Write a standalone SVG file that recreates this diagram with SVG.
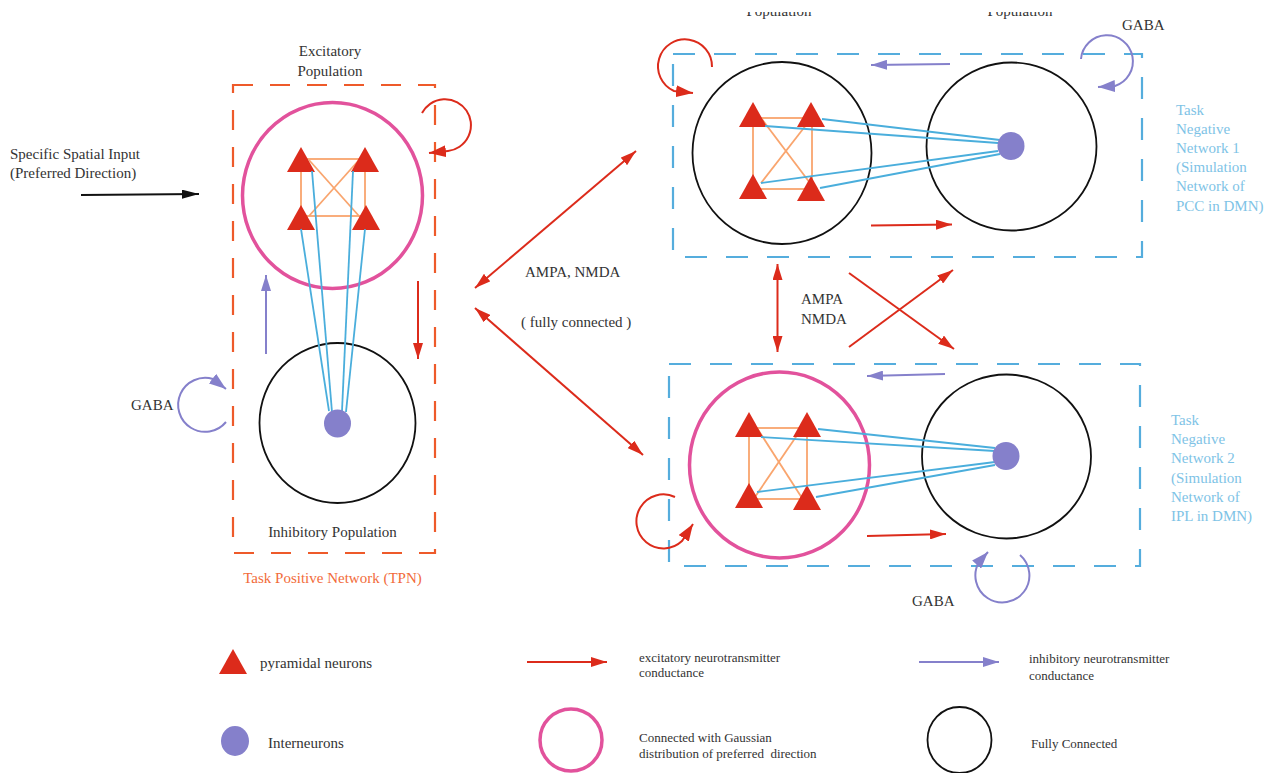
<svg xmlns="http://www.w3.org/2000/svg" xmlns:xlink="http://www.w3.org/1999/xlink" width="1273" height="773" viewBox="0 0 1273 773">
<style>
text{font-family:"Liberation Serif","DejaVu Serif",serif;fill:#333;font-size:15px}
.sm{font-size:13px}
.lb{fill:#7ec3e6}
.tpnl{fill:#f26b3a}
.boxo{fill:none;stroke:#ee5a2a;stroke-width:2.2;stroke-dasharray:20 17}
.boxb{fill:none;stroke:#55addd;stroke-width:2.2;stroke-dasharray:22 19}
.pink{fill:none;stroke:#e2529c;stroke-width:3.5}
.blk{fill:none;stroke:#111;stroke-width:1.8}
.dot{fill:#8580cb}
.tri{fill:#dc2b1b}
.sq{fill:none;stroke:#f9a56e;stroke-width:1.8}
.bl{fill:none;stroke:#4aaedc;stroke-width:1.8}
.ar{fill:none;stroke:#dc2b1b;stroke-width:2}
.ap{fill:none;stroke:#8580cb;stroke-width:2}
.ak{fill:none;stroke:#111;stroke-width:2}
</style>
<defs>
<path id="tri" d="M0,0 L14,25 L-14,25 z"/>
<marker id="hr" markerUnits="userSpaceOnUse" markerWidth="16" markerHeight="10" refX="16" refY="5" orient="auto"><path d="M0,0 L16,5 L0,10 z" fill="#dc2b1b"/></marker>
<marker id="hr2" markerUnits="userSpaceOnUse" markerWidth="16" markerHeight="10" refX="16" refY="5" orient="auto-start-reverse"><path d="M0,0 L16,5 L0,10 z" fill="#dc2b1b"/></marker>
<marker id="hrl" markerUnits="userSpaceOnUse" markerWidth="17" markerHeight="12" refX="17" refY="6" orient="auto"><path d="M0,0 L17,6 L0,12 z" fill="#dc2b1b"/></marker>
<marker id="hp" markerUnits="userSpaceOnUse" markerWidth="16" markerHeight="10" refX="16" refY="5" orient="auto"><path d="M0,0 L16,5 L0,10 z" fill="#8580cb"/></marker>
<marker id="hpl" markerUnits="userSpaceOnUse" markerWidth="17" markerHeight="12" refX="17" refY="6" orient="auto"><path d="M0,0 L17,6 L0,12 z" fill="#8580cb"/></marker>
<marker id="hk" markerUnits="userSpaceOnUse" markerWidth="17" markerHeight="9" refX="17" refY="4.5" orient="auto"><path d="M0,0 L17,4.5 L0,9 z" fill="#111"/></marker>
<clipPath id="topclip"><rect x="0" y="12" width="1273" height="20"/></clipPath>
</defs>
<rect width="1273" height="773" fill="#fff"/>

<g id="input-label">
<text x="10" y="159">Specific Spatial Input</text>
<text x="10" y="178">(Preferred Direction)</text>
</g>

<g id="tpn">
<rect class="boxo" x="233" y="85" width="202" height="468"/>
<text class="tpnl" x="332.5" y="583" text-anchor="middle">Task Positive Network (TPN)</text>
<text x="131" y="410">GABA</text>
</g>

<g id="tpn-excitatory">
<text x="330" y="56" text-anchor="middle">Excitatory</text>
<text x="330" y="76" text-anchor="middle">Population</text>
<ellipse class="pink" cx="332.5" cy="195.5" rx="90" ry="93"/>
<rect class="sq" x="301" y="159" width="64" height="57"/>
<line class="sq" x1="309" y1="160" x2="359" y2="216"/>
<line class="sq" x1="359" y1="160" x2="309" y2="216"/>
<use href="#tri" class="tri" x="301" y="147"/>
<use href="#tri" class="tri" x="365" y="147"/>
<use href="#tri" class="tri" x="301" y="205"/>
<use href="#tri" class="tri" x="366" y="205"/>
</g>

<g id="tpn-inhibitory">
<ellipse class="blk" cx="337.5" cy="423" rx="78" ry="80"/>
<text x="332.5" y="537" text-anchor="middle">Inhibitory Population</text>
</g>

<g id="dmn1">
<rect class="boxb" x="673" y="54" width="469" height="203"/>
<g clip-path="url(#topclip)">
<text x="779" y="16" text-anchor="middle">Population</text>
<text x="1020" y="16" text-anchor="middle">Population</text>
</g>
<text x="1122" y="30">GABA</text>
<text class="lb" x="1176" y="115">Task</text>
<text class="lb" x="1176" y="134">Negative</text>
<text class="lb" x="1176" y="153">Network 1</text>
<text class="lb" x="1176" y="172">(Simulation</text>
<text class="lb" x="1176" y="191">Network of</text>
<text class="lb" x="1176" y="211">PCC in DMN)</text>
</g>

<g id="dmn1-excitatory">
<ellipse class="blk" cx="782" cy="153" rx="89.5" ry="91"/>
<rect class="sq" x="753" y="118" width="59" height="71"/>
<line class="sq" x1="761" y1="118" x2="810" y2="183"/>
<line class="sq" x1="810" y1="120" x2="761" y2="183"/>
<use href="#tri" class="tri" x="753" y="102"/>
<use href="#tri" class="tri" x="811" y="102"/>
<use href="#tri" class="tri" x="753" y="174"/>
<use href="#tri" class="tri" x="811" y="176"/>
</g>

<g id="dmn1-inhibitory">
<ellipse class="blk" cx="1011.5" cy="146.5" rx="85" ry="84"/>
</g>

<g id="dmn2">
<rect class="boxb" x="669" y="364" width="471" height="202"/>
<text x="912" y="606">GABA</text>
<text class="lb" x="1171" y="425">Task</text>
<text class="lb" x="1171" y="444">Negative</text>
<text class="lb" x="1171" y="463">Network 2</text>
<text class="lb" x="1171" y="483">(Simulation</text>
<text class="lb" x="1171" y="502">Network of</text>
<text class="lb" x="1171" y="521">IPL in DMN)</text>
</g>

<g id="dmn2-excitatory">
<ellipse class="pink" cx="779.5" cy="465" rx="90" ry="93"/>
<rect class="sq" x="749" y="428" width="58" height="71"/>
<line class="sq" x1="757" y1="428" x2="802" y2="498"/>
<line class="sq" x1="802" y1="428" x2="755" y2="497"/>
<use href="#tri" class="tri" x="749" y="412"/>
<use href="#tri" class="tri" x="807" y="412"/>
<use href="#tri" class="tri" x="749" y="483"/>
<use href="#tri" class="tri" x="807" y="485"/>
</g>

<g id="dmn2-inhibitory">
<ellipse class="blk" cx="1006.5" cy="456.5" rx="84.5" ry="82"/>
</g>

<g id="connectors">
<!-- TPN excitatory to interneuron -->
<line class="bl" x1="312" y1="171" x2="332" y2="412"/>
<line class="bl" x1="353" y1="171" x2="342" y2="411"/>
<line class="bl" x1="301" y1="229" x2="329" y2="411"/>
<line class="bl" x1="365" y1="229" x2="346" y2="412"/>
<!-- DMN1 -->
<line class="bl" x1="822" y1="119" x2="1000" y2="140"/>
<line class="bl" x1="765" y1="126" x2="998" y2="143"/>
<line class="bl" x1="761" y1="183" x2="998" y2="151"/>
<line class="bl" x1="820" y1="188" x2="1000" y2="154"/>
<!-- DMN2 -->
<line class="bl" x1="818" y1="429" x2="995" y2="448"/>
<line class="bl" x1="761" y1="437" x2="995" y2="451"/>
<line class="bl" x1="757" y1="492" x2="995" y2="462"/>
<line class="bl" x1="816" y1="497" x2="995" y2="465"/>

<!-- input -->
<line class="ak" x1="81" y1="195" x2="199" y2="194" marker-end="url(#hk)"/>
<!-- TPN internal -->
<line class="ap" x1="266" y1="354" x2="266" y2="275" marker-end="url(#hp)"/>
<line class="ar" x1="418" y1="281" x2="418" y2="359" marker-end="url(#hr)"/>
<path class="ar" d="M422,113 A26,26 0 1 1 448,151 L429,153" marker-end="url(#hrl)"/>
<path class="ap" d="M226,422 A27,27 0 1 1 213,379 L226,389" marker-end="url(#hpl)"/>
<!-- TPN to DMN -->
<line class="ar" x1="475" y1="288" x2="636" y2="151" marker-start="url(#hr2)" marker-end="url(#hr2)"/>
<line class="ar" x1="475" y1="308" x2="643" y2="455" marker-start="url(#hr2)" marker-end="url(#hr2)"/>
<text x="525" y="277">AMPA, NMDA</text>
<text x="521" y="327">( fully connected )</text>
<!-- DMN1 internal -->
<line class="ap" x1="950" y1="64" x2="871" y2="65" marker-end="url(#hp)"/>
<line class="ar" x1="871" y1="225.5" x2="952" y2="224.5" marker-end="url(#hr)"/>
<path class="ar" d="M712,67 A27,27 0 1 0 674,91 L693,93" marker-end="url(#hrl)"/>
<path class="ap" d="M1081,59 A26,26 0 1 1 1115,86 L1098,87" marker-end="url(#hpl)"/>
<!-- DMN1 <-> DMN2 -->
<line class="ar" x1="777.5" y1="264" x2="777.5" y2="352" marker-start="url(#hr2)" marker-end="url(#hr2)"/>
<text x="801" y="304">AMPA</text>
<text x="801" y="324">NMDA</text>
<line class="ar" x1="849" y1="347" x2="953" y2="270" marker-end="url(#hr)"/>
<line class="ar" x1="849" y1="273" x2="954" y2="349" marker-end="url(#hr)"/>
<!-- DMN2 internal -->
<line class="ap" x1="945" y1="374" x2="867" y2="376" marker-end="url(#hp)"/>
<line class="ar" x1="867" y1="536" x2="946" y2="534" marker-end="url(#hr)"/>
<path class="ar" d="M675,497 A27,27 0 1 0 682,541 L693,524" marker-end="url(#hrl)"/>
<path class="ap" d="M1020,555 A27,27 0 1 1 979,562 L988,552" marker-end="url(#hpl)"/>
</g>

<g id="interneurons">
<ellipse class="dot" cx="337.5" cy="423.5" rx="13.5" ry="14"/>
<ellipse class="dot" cx="1011" cy="146" rx="13.5" ry="14"/>
<ellipse class="dot" cx="1006" cy="456" rx="13.5" ry="14"/>
</g>

<g id="legend">
<use href="#tri" class="tri" x="233" y="649"/>
<text x="260" y="668">pyramidal neurons</text>
<ellipse class="dot" cx="235" cy="741" rx="14" ry="15"/>
<text x="268" y="748">Interneurons</text>
<line class="ar" x1="527" y1="662" x2="607" y2="662" marker-end="url(#hr)"/>
<text class="sm" x="639" y="662">excitatory neurotransmitter</text>
<text class="sm" x="639" y="677">conductance</text>
<line class="ap" x1="919" y1="662" x2="999" y2="662" marker-end="url(#hp)"/>
<text class="sm" x="1029" y="663">inhibitory neurotransmitter</text>
<text class="sm" x="1029" y="680">conductance</text>
<ellipse class="pink" cx="571" cy="740" rx="31" ry="31"/>
<text class="sm" x="639" y="742">Connected with Gaussian</text>
<text class="sm" x="639" y="758" xml:space="preserve">distribution of preferred  direction</text>
<ellipse class="blk" cx="959.5" cy="740" rx="32" ry="33"/>
<text class="sm" x="1031" y="748">Fully Connected</text>
</g>
</svg>
